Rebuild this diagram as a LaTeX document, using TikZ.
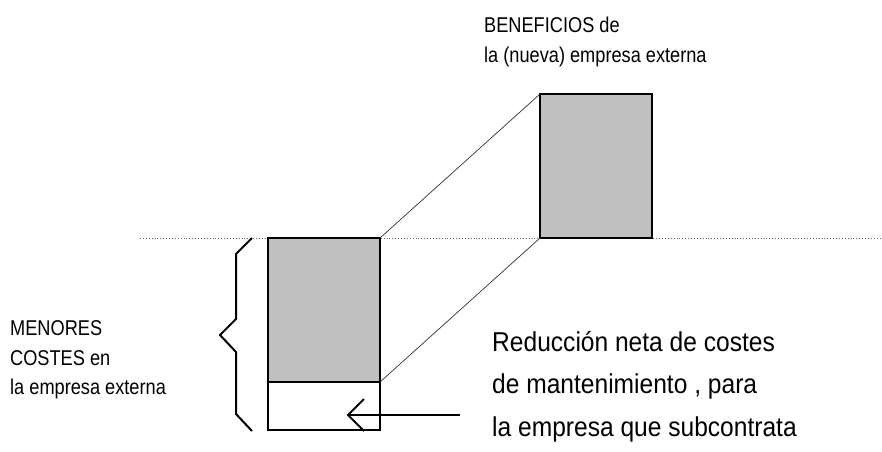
\documentclass[tikz,border=0pt]{standalone}
\usepackage{fontspec}
\setmainfont{Liberation Sans}
\newfontfamily\smallnarrow[FakeStretch=0.85]{Liberation Sans}
\newfontfamily\bignarrow[FakeStretch=0.9]{Liberation Sans}
\definecolor{boxgray}{RGB}{192,192,192}
\tikzset{
  bar/.style={draw=black, line width=2pt},
  barfill/.style={fill=boxgray},
  guide/.style={draw=black!80, line width=0.7pt},
  baseline/.style={draw=black!60, line width=0.9pt, dotted},
  bracestroke/.style={draw=black, line width=2pt, line join=miter},
  small/.style={inner sep=0pt, anchor=base west, font=\smallnarrow\fontsize{21.4}{25}\selectfont},
  big/.style={inner sep=0pt, anchor=base west, font=\bignarrow\fontsize{27.3}{32}\selectfont},
}
\begin{document}
\begin{tikzpicture}[x=1pt,y=-1pt]
\useasboundingbox (0,0) rectangle (882,451);
% coordinates
\coordinate (dl) at (140,238);
\coordinate (dr) at (882,238);
\coordinate (ltl) at (268,238);
\coordinate (ltr) at (380,238);
\coordinate (lml) at (268,382);
\coordinate (lmr) at (380,382);
\coordinate (lbl) at (268,430);
\coordinate (lbr) at (380,430);
\coordinate (rtl) at (540,94);
\coordinate (rtr) at (652,94);
\coordinate (rbl) at (540,238);
\coordinate (rbr) at (652,238);
% dotted zero line
\draw[baseline] (dl) -- (dr);
% boxes
\fill[barfill] (ltl) rectangle (lmr);
\fill[barfill] (rtl) rectangle (rbr);
\draw[bar] (ltl) rectangle (lbr);
\draw[bar] (lml) -- (lmr);
\draw[bar] (rtl) rectangle (rbr);
% guide lines
\draw[guide] (ltr) -- (rtl);
\draw[guide] (lmr) -- (rbl);
% brace
\coordinate (b1) at (252,238);
\coordinate (b2) at (236,254);
\coordinate (b3) at (236,319);
\coordinate (b4) at (220,335);
\coordinate (b5) at (236,352);
\coordinate (b6) at (236,414);
\coordinate (b7) at (252,431);
\draw[bracestroke] (b1) -- (b2) -- (b3) -- (b4) -- (b5) -- (b6) -- (b7);
% arrow
\coordinate (as) at (460,415);
\coordinate (ae) at (348,415);
\coordinate (ah1) at (364,399);
\coordinate (ah2) at (364,431);
\draw[draw=black, line width=1.3pt] (as) -- (ae);
\draw[draw=black, line width=2pt] (ah1) -- (ae) -- (ah2);
% texts
\node[small] (t1) at (484,32) {BENEFICIOS de};
\node[small] (t2) at (484,62) {la (nueva) empresa externa};
\node[small] (m1) at (10,335) {MENORES};
\node[small] (m2) at (10,365) {COSTES en};
\node[small] (m3) at (10,394) {la empresa externa};
\node[big] (r1) at (492,351) {Reducción neta de costes};
\node[big] (r2) at (492,393) {de mantenimiento , para};
\node[big] (r3) at (492,436) {la empresa que subcontrata};
\end{tikzpicture}
\end{document}
